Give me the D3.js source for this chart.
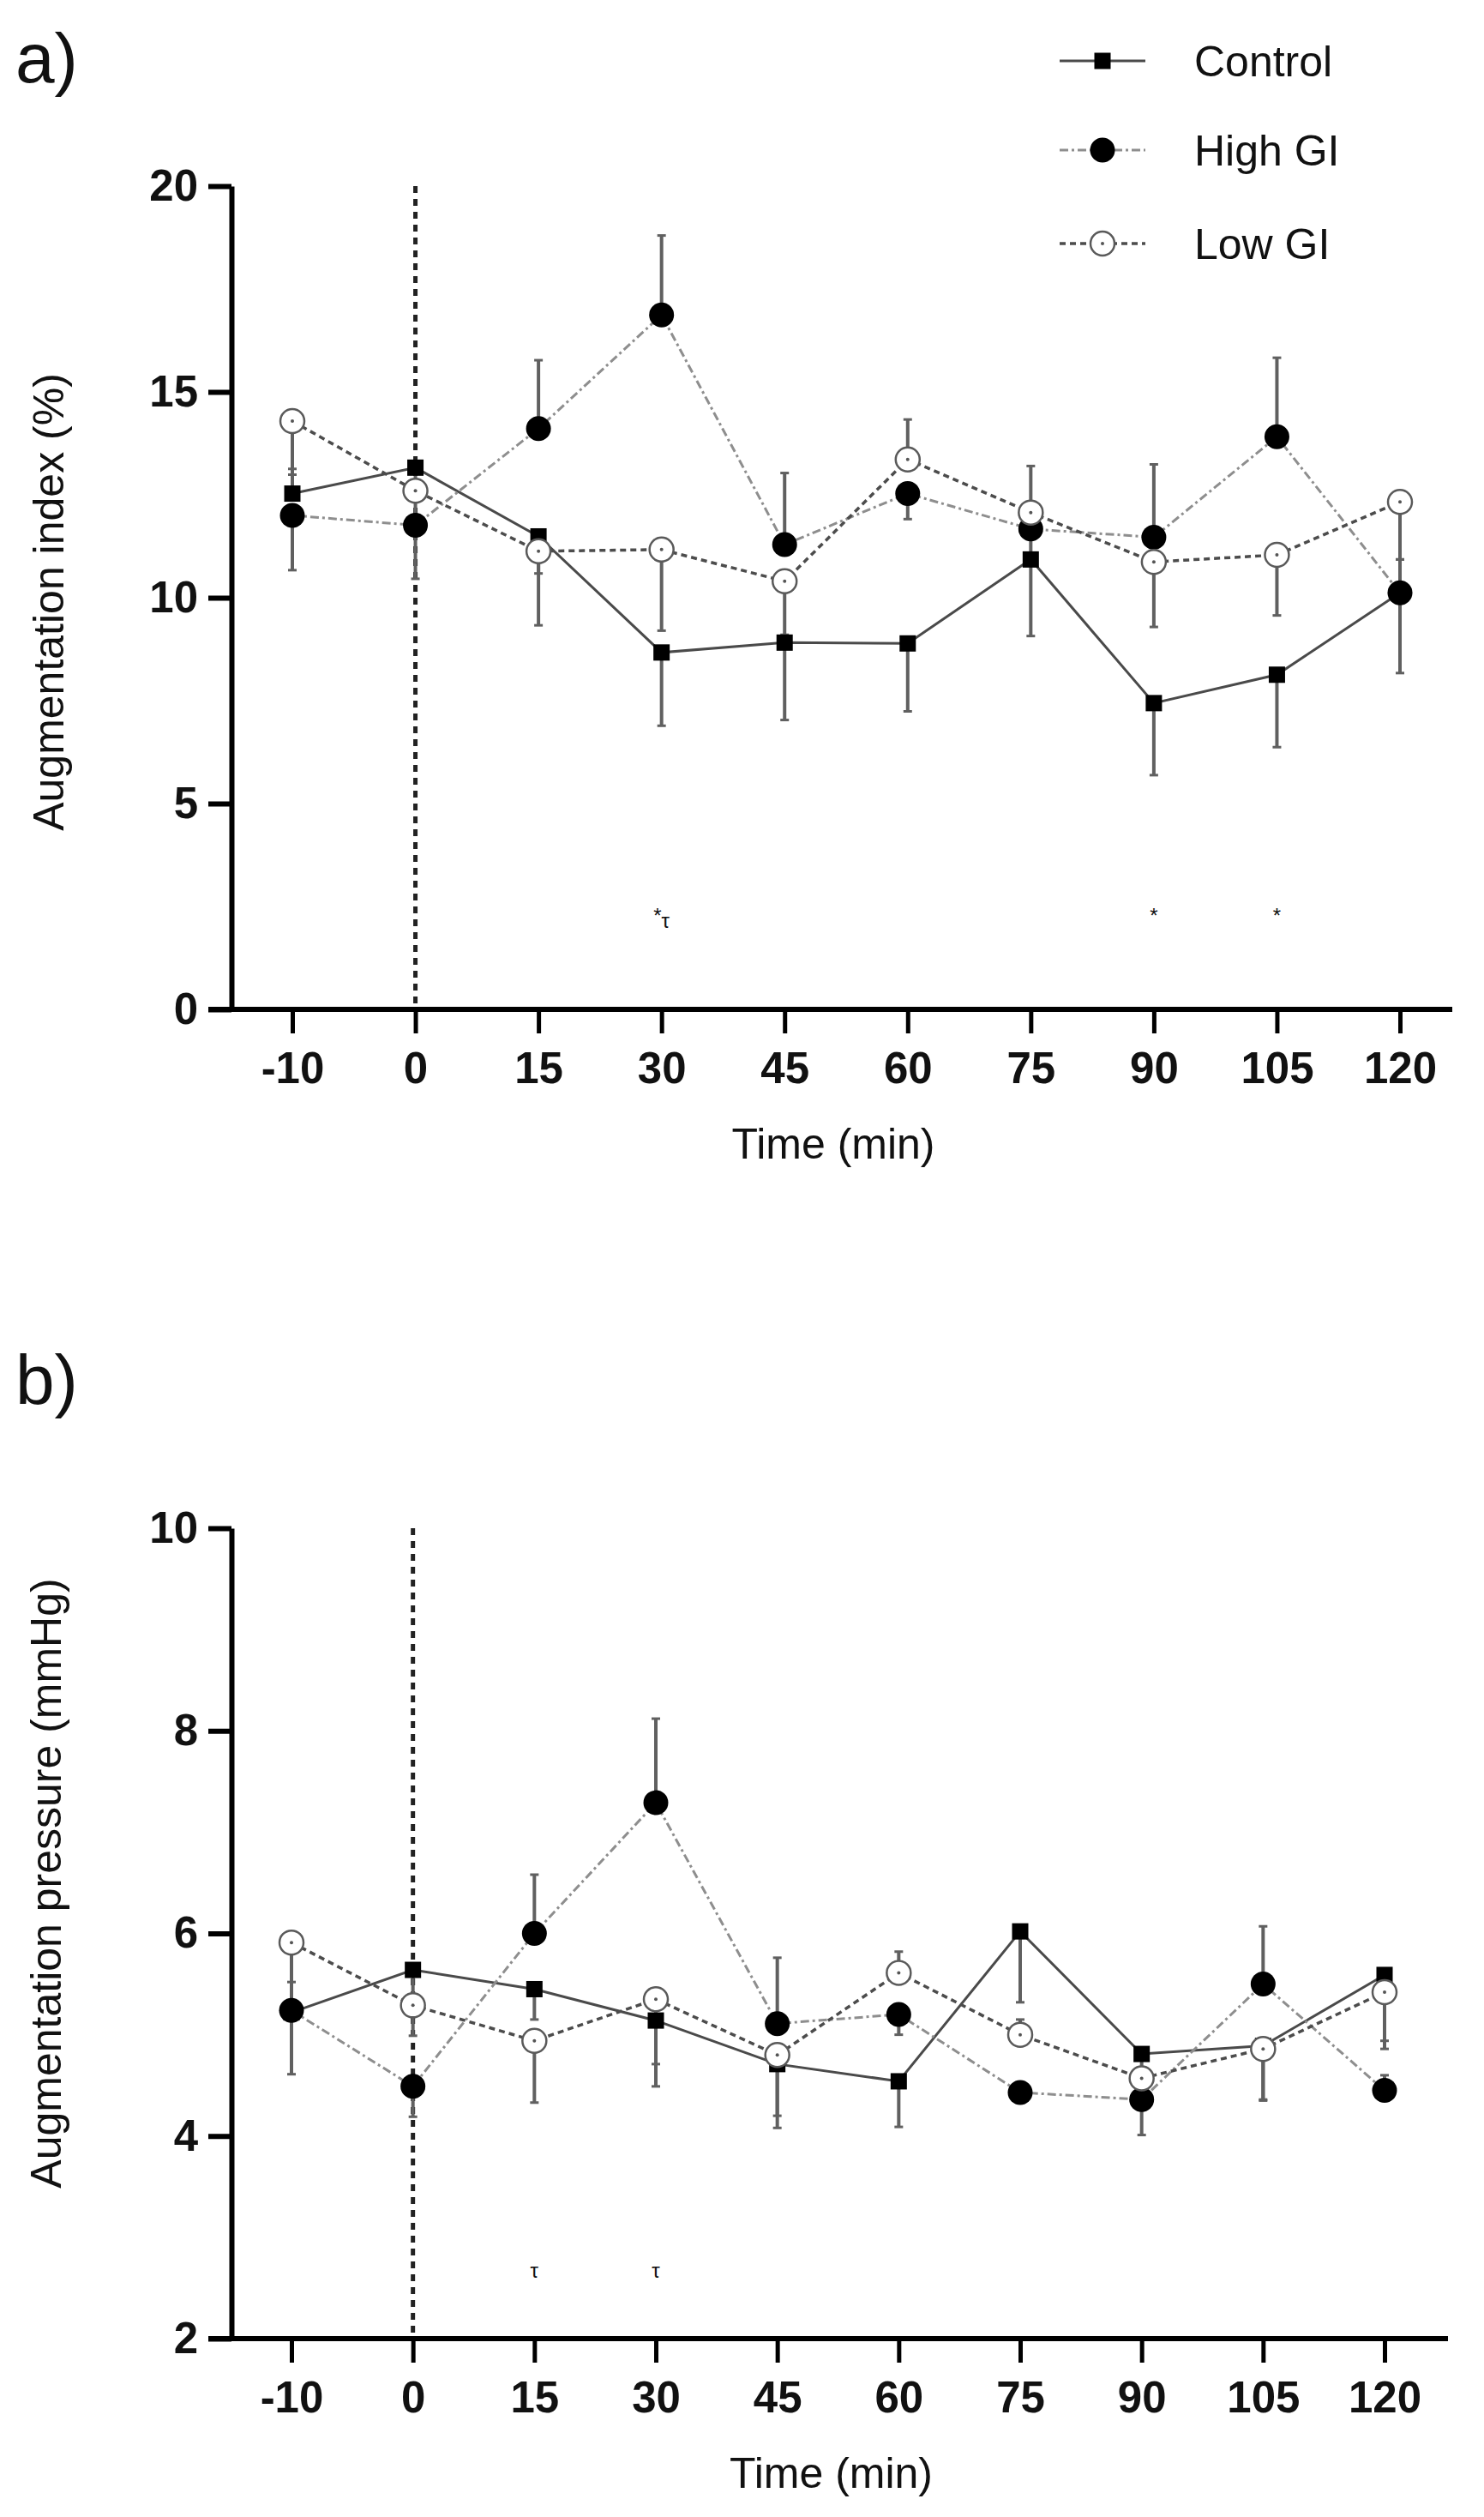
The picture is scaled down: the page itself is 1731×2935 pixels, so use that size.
<!DOCTYPE html>
<html>
<head>
<meta charset="utf-8">
<script src="https://cdn.jsdelivr.net/npm/d3@7"></script>
<style>
  body { margin: 0; background: #fff; }
  svg text { font-family: "Liberation Sans", Arial, Helvetica, sans-serif; fill: #111; }
</style>
</head>
<body>
<div id="chart"></div>
<script>

//--- Daten ------------------------------------------------------------------------------------------------ //

var timePoints = ['-10', '0', '15', '30', '45', '60', '75', '90', '105', '120'];
var seriesNames = ['Control', 'High GI', 'Low GI'];

// a) augmentation index (%) - error = SEM, sign gives direction of the bar (+ up, - down)
var aiControl    = [12.53, 13.16, 11.49, 8.67, 8.91, 8.89, 10.93, 7.44, 8.13, 10.12];
var aiControlErr = [0.6, -0.8, -0.9, -1.78, -1.88, -1.65, -1.86, -1.75, -1.76, -1.95];
var aiHigh       = [12.0, 11.76, 14.11, 16.87, 11.29, 12.53, 11.67, 11.47, 13.91, 10.12];
var aiHighErr    = [-1.33, -1.3, 1.66, 1.93, 1.74, -0.62, -0.8, 1.77, 1.92, 0.81];
var aiLow        = [14.29, 12.6, 11.13, 11.17, 10.4, 13.36, 12.07, 10.87, 11.04, 12.33];
var aiLowErr     = [-1.3, -0.9, -1.8, -1.97, -1.3, 0.97, 1.13, -1.58, -1.47, -1.4];
var aiTicks      = [0, 5, 10, 15, 20];
var aiSig        = [{t: '30', txt: '*', sub: '\u03c4', v: 2.1}, {t: '90', txt: '*', sub: '', v: 2.1}, {t: '105', txt: '*', sub: '', v: 2.1}];

// b) augmentation pressure (mmHg)
var apControl    = [5.22, 5.64, 5.45, 5.14, 4.71, 4.54, 6.02, 4.81, 4.89, 5.59];
var apControlErr = [0.3, -0.3, -0.3, -0.65, -0.63, -0.45, -0.70, -0.25, -0.54, -0.73];
var apHigh       = [5.24, 4.49, 6.0, 7.29, 5.11, 5.20, 4.43, 4.36, 5.50, 4.45];
var apHighErr    = [-0.63, -0.3, 0.58, 0.83, 0.65, -0.2, -0.1, -0.35, 0.57, 0.15];
var apLow        = [5.91, 5.29, 4.94, 5.35, 4.80, 5.61, 5.0, 4.57, 4.86, 5.42];
var apLowErr     = [-0.6, -0.3, -0.61, -0.64, -0.6, 0.21, 0.15, -0.2, -0.5, -0.48];
var apTicks      = [2, 4, 6, 8, 10];
var apSig        = [{t: '15', txt: '\u03c4', sub: '', v: 2.6}, {t: '30', txt: '\u03c4', sub: '', v: 2.6}];


//--- Linienstile ------------------------------------------------------------------------------------------ //

var styles = {
    'Control': {stroke: '#4a4a4a', dash: null, width: 3},
    'High GI': {stroke: '#8e8e8e', dash: '10,4,3,4', width: 3},
    'Low GI':  {stroke: '#4c4c4c', dash: '7,5', width: 3.5}
};

var svg = d3.select('#chart').append('svg')
    .attr('width', 1731)
    .attr('height', 2935)
    .attr('viewBox', '0 0 1731 2935');


function drawMarker(g, name, x, y) {
    if (name == 'Control') {
        g.append('rect')
            .attr('x', x - 9.5).attr('y', y - 9.5)
            .attr('width', 19).attr('height', 19)
            .attr('fill', '#000');
    } else if (name == 'High GI') {
        g.append('circle')
            .attr('cx', x).attr('cy', y).attr('r', 14.5)
            .attr('fill', '#000');
    } else {
        g.append('circle')
            .attr('cx', x).attr('cy', y).attr('r', 14)
            .attr('fill', '#fff')
            .attr('stroke', '#5a5a5a')
            .attr('stroke-width', 2.5);
        g.append('circle')
            .attr('cx', x).attr('cy', y).attr('r', 2)
            .attr('fill', '#555');
    }
}


//--- Panel zeichnen --------------------------------------------------------------------------------------- //

function drawPanel(p) {

    var g = svg.append('g');

    var x = d3.scalePoint().domain(timePoints).range(p.xRange);
    var y = d3.scaleLinear().domain(p.yDomain).range(p.yRange);
    var y0 = y(p.yDomain[0]);

    // panel letter
    g.append('text')
        .attr('x', 18).attr('y', p.letterY)
        .attr('font-size', 82)
        .text(p.letter);

    // dashed line at time 0
    g.append('line')
        .attr('x1', x('0')).attr('x2', x('0'))
        .attr('y1', y(p.yDomain[1])).attr('y2', y0)
        .attr('stroke', '#222')
        .attr('stroke-width', 5)
        .attr('stroke-dasharray', '8,7');

    // y axis
    var yAxis = g.append('g')
        .attr('transform', 'translate(' + p.axisX + ',0)')
        .call(d3.axisLeft(y).tickValues(p.ticks).tickSize(27).tickSizeOuter(0).tickPadding(12));
    yAxis.select('.domain').attr('stroke', '#000').attr('stroke-width', 6);
    yAxis.selectAll('.tick line').attr('stroke', '#000').attr('stroke-width', 6);
    yAxis.selectAll('.tick text')
        .attr('font-size', 51)
        .attr('font-weight', 'bold')
        .attr('font-family', '"Liberation Sans", Arial, sans-serif')
        .attr('fill', '#111');

    // x axis
    g.append('line')
        .attr('x1', p.axisX - 27).attr('x2', p.axisEnd)
        .attr('y1', y0).attr('y2', y0)
        .attr('stroke', '#000').attr('stroke-width', 6);

    var xAxis = g.append('g')
        .attr('transform', 'translate(0,' + y0 + ')')
        .call(d3.axisBottom(x).tickSize(28).tickSizeOuter(0).tickPadding(22));
    xAxis.select('.domain').remove();
    xAxis.selectAll('.tick line').attr('stroke', '#000').attr('stroke-width', 5);
    xAxis.selectAll('.tick text')
        .attr('font-size', 51)
        .attr('font-weight', 'bold')
        .attr('font-family', '"Liberation Sans", Arial, sans-serif')
        .attr('fill', '#111');

    // axis titles
    g.append('text')
        .attr('x', (p.axisX + p.axisEnd) / 2 - 10)
        .attr('y', y0 + 174)
        .attr('text-anchor', 'middle')
        .attr('font-size', 50)
        .text('Time (min)');

    g.append('text')
        .attr('transform', 'translate(' + p.titleX + ',' + p.titleY + ') rotate(-90)')
        .attr('text-anchor', 'middle')
        .attr('font-size', 50)
        .text(p.yTitle);

    var series = [
        {name: 'Control', values: p.control, err: p.controlErr},
        {name: 'High GI', values: p.high, err: p.highErr},
        {name: 'Low GI', values: p.low, err: p.lowErr}
    ];

    var line = d3.line()
        .x(function (d, i) { return x(timePoints[i]); })
        .y(function (d) { return y(d); });

    // lines
    series.forEach(function (s) {
        var st = styles[s.name];
        g.append('path')
            .attr('d', line(s.values))
            .attr('fill', 'none')
            .attr('stroke', st.stroke)
            .attr('stroke-width', st.width)
            .attr('stroke-dasharray', st.dash);
    });

    // error bars
    series.forEach(function (s) {
        s.values.forEach(function (v, i) {
            var cx = x(timePoints[i]);
            var yEnd = y(v + s.err[i]);
            g.append('line')
                .attr('x1', cx).attr('x2', cx)
                .attr('y1', y(v)).attr('y2', yEnd)
                .attr('stroke', '#606060').attr('stroke-width', 4);
            g.append('line')
                .attr('x1', cx - 5).attr('x2', cx + 5)
                .attr('y1', yEnd).attr('y2', yEnd)
                .attr('stroke', '#606060').attr('stroke-width', 3);
        });
    });

    // markers
    series.forEach(function (s) {
        s.values.forEach(function (v, i) {
            drawMarker(g, s.name, x(timePoints[i]), y(v));
        });
    });

    // significance symbols
    p.sig.forEach(function (m) {
        var t = g.append('text')
            .attr('x', x(m.t))
            .attr('y', y(m.v))
            .attr('text-anchor', 'middle')
            .attr('font-size', 24)
            .attr('fill', '#333')
            .text(m.txt);
        if (m.sub) {
            t.append('tspan').attr('dy', 6).text(m.sub);
        }
    });
}


drawPanel({
    letter: 'a)', letterY: 96,
    xRange: [341, 1633], axisX: 270, axisEnd: 1694,
    yDomain: [0, 20], yRange: [1177, 217], ticks: aiTicks,
    yTitle: 'Augmentation index (%)', titleX: 74, titleY: 702,
    control: aiControl, controlErr: aiControlErr,
    high: aiHigh, highErr: aiHighErr,
    low: aiLow, lowErr: aiLowErr,
    sig: aiSig
});

drawPanel({
    letter: 'b)', letterY: 1637,
    xRange: [340, 1615], axisX: 270, axisEnd: 1689,
    yDomain: [2, 10], yRange: [2727, 1782], ticks: apTicks,
    yTitle: 'Augmentation pressure (mmHg)', titleX: 71, titleY: 2196,
    control: apControl, controlErr: apControlErr,
    high: apHigh, highErr: apHighErr,
    low: apLow, lowErr: apLowErr,
    sig: apSig
});


//--- Legende ---------------------------------------------------------------------------------------------- //

var legend = svg.append('g');
var legendY = [71, 175, 284];

seriesNames.forEach(function (name, i) {
    var st = styles[name];
    legend.append('line')
        .attr('x1', 1236).attr('x2', 1336)
        .attr('y1', legendY[i]).attr('y2', legendY[i])
        .attr('stroke', st.stroke)
        .attr('stroke-width', st.width)
        .attr('stroke-dasharray', st.dash);
    drawMarker(legend, name, 1286, legendY[i]);
    legend.append('text')
        .attr('x', 1393).attr('y', legendY[i])
        .attr('dy', '0.36em')
        .attr('font-size', 50)
        .text(name);
});

</script>
</body>
</html>
